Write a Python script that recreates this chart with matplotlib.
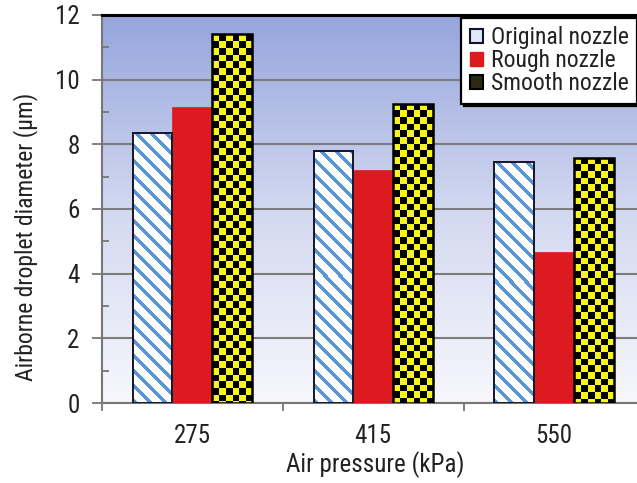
import numpy as np
import matplotlib
matplotlib.use("Agg")
import matplotlib.pyplot as plt
from matplotlib.colors import LinearSegmentedColormap, ListedColormap
from matplotlib.patches import Patch

# droplet diameter (um) per nozzle at each air pressure
pressures = ["275", "415", "550"]
original = [8.34, 7.80, 7.46]
rough = [9.16, 7.22, 4.66]
smooth = [11.40, 9.26, 7.58]
series_names = ["Original nozzle", "Rough nozzle", "Smooth nozzle"]

plt.rcParams['font.family'] = ['Roboto Condensed', 'Liberation Sans', 'DejaVu Sans']
plt.rcParams['text.color'] = '#222222'
plt.rcParams['axes.labelcolor'] = '#222222'

RED = '#dc1a1f'
YELLOW = '#f6f61c'
STRIPE = '#5a96d7'
GRID = '#7c7c7c'


def fill_texture(ax, bar, kind):
    """Paint a stripe or checker texture inside one bar, clipped to it."""
    x0, bw, bh = bar.get_x(), bar.get_width(), bar.get_height()
    (px0, py0), (px1, py1) = ax.transData.transform([(x0, 0), (x0 + bw, bh)])
    wpx, hpx = int(round(px1 - px0)), int(round(py1 - py0))
    rows, cols = np.mgrid[0:hpx, 0:wpx]
    if kind == 'stripes':
        tex = ((cols + rows) % 15) < 5
        cmap = ListedColormap(['white', STRIPE])
    else:
        cell = wpx / 6.0
        tex = ((cols // cell) + ((hpx - 1 - rows) // cell)) % 2 == 1
        cmap = ListedColormap([YELLOW, 'black'])
    img = ax.imshow(tex.astype(float), extent=[x0, x0 + bw, 0, bh], origin='lower',
                    cmap=cmap, vmin=0, vmax=1, interpolation='nearest',
                    aspect='auto', zorder=3.5)
    img.set_clip_path(bar)


fig = plt.figure(figsize=(6.37, 4.83), dpi=100)
ax = fig.add_axes([0.160, 0.1656, 0.852, 0.8034])

# blue-to-white background
grad = np.linspace(0, 1, 256).reshape(-1, 1)
bg = LinearSegmentedColormap.from_list('bg', ['#f7f7fc', '#d2d8f0', '#95a5dc'])
ax.imshow(grad, extent=[0, 1, 0, 1], transform=ax.transAxes, origin='lower',
          aspect='auto', cmap=bg, zorder=0)

x = np.arange(len(pressures))
w = 0.22

orig_bars = ax.bar(x - w, original, w, facecolor='white', linewidth=0, zorder=3)
ax.bar(x, rough, w, facecolor=RED, edgecolor=RED, linewidth=0.5, zorder=3)
smooth_bars = ax.bar(x + w, smooth, w, facecolor=YELLOW, linewidth=0, zorder=3)

ax.set_xlim(-0.5, 2.5)
ax.set_ylim(0, 12)

for bar in orig_bars:
    fill_texture(ax, bar, 'stripes')
for bar in smooth_bars:
    fill_texture(ax, bar, 'checker')

# outlines on top of the textures
ax.bar(x - w, original, w, fill=False, edgecolor='#15152a', linewidth=1.4, zorder=4)
ax.bar(x + w, smooth, w, fill=False, edgecolor='black', linewidth=1.8, zorder=4)

ax.set_xlim(-0.5, 2.5)
ax.set_ylim(0, 12)

ax.set_axisbelow(True)
ax.yaxis.grid(True, color=GRID, linewidth=1.5)

ax.set_yticks(range(0, 13, 2))
ax.set_yticks(range(1, 12, 2), minor=True)
ax.tick_params(axis='y', which='major', direction='out', length=7, width=1.3,
               color='#777777', labelsize=18, pad=9, labelcolor='#222222')
ax.tick_params(axis='y', which='minor', direction='in', length=5, width=1.3,
               color='#777777')

ax.set_xticks(x, pressures)
ax.set_xticks([-0.5, 0.5, 1.5, 2.5], minor=True)
ax.tick_params(axis='x', which='major', length=0, labelsize=18, pad=15,
               labelcolor='#222222')
ax.tick_params(axis='x', which='minor', direction='out', length=6, width=1.3,
               color='#777777')

for side in ('left', 'bottom'):
    ax.spines[side].set_color('#777777')
    ax.spines[side].set_linewidth(1.5)
ax.spines['top'].set_color('black')
ax.spines['top'].set_linewidth(2.2)
ax.spines['right'].set_visible(False)

ax.set_xlabel('Air pressure (kPa)', fontsize=18)
ax.xaxis.set_label_coords(0.503, -0.123)
ax.xaxis.label.set_va('top')
ax.set_ylabel('Airborne droplet diameter (µm)', fontsize=17)
ax.yaxis.set_label_coords(-0.118, 0.428)

handles = [
    Patch(facecolor='#dfe8f6', edgecolor='#15152a', linewidth=1.5),
    Patch(facecolor=RED, edgecolor=RED),
    Patch(facecolor='#2a2a14', edgecolor='black', linewidth=1.5),
]
leg = ax.legend(handles, series_names, loc='upper right',
                bbox_to_anchor=(1.0, 1 - 18 / 483),
                bbox_transform=fig.transFigure,
                borderaxespad=0, fontsize=17, frameon=True, fancybox=False,
                framealpha=1, edgecolor='black', borderpad=0.35,
                handlelength=0.55, handleheight=0.55, handletextpad=0.35,
                labelspacing=0.0, shadow={'color': 'black', 'alpha': 1})
leg.get_frame().set_linewidth(1.6)
leg.set_zorder(10)

fig.savefig('out.png', dpi=100)
